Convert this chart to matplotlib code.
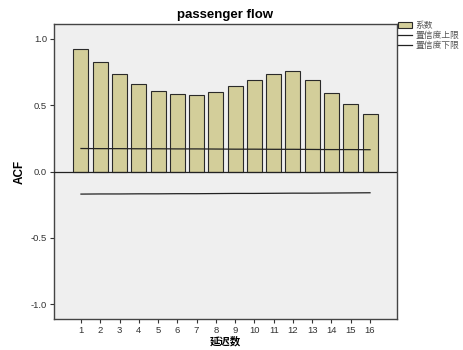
import matplotlib
matplotlib.use('Agg')
import matplotlib.pyplot as plt
from matplotlib.patches import Patch
from matplotlib.lines import Line2D

plt.rcParams['font.family'] = ['Liberation Sans', 'Noto Sans CJK SC', 'DejaVu Sans']

# ACF values
lags = list(range(1, 17))
acf = [0.925, 0.825, 0.732, 0.657, 0.609, 0.581, 0.576, 0.596,
       0.644, 0.689, 0.737, 0.757, 0.692, 0.592, 0.506, 0.431]
upper = [0.173, 0.172, 0.172, 0.171, 0.171, 0.170, 0.170, 0.169,
         0.168, 0.168, 0.167, 0.167, 0.166, 0.165, 0.165, 0.164]
lower = [-0.170, -0.169, -0.169, -0.168, -0.168, -0.167, -0.167, -0.166,
         -0.165, -0.165, -0.164, -0.163, -0.163, -0.162, -0.161, -0.160]
yticks = [-1.0, -0.5, 0.0, 0.5, 1.0]

fig = plt.figure(figsize=(4.64, 3.5), dpi=100)
ax = fig.add_axes([54 / 464, 1 - 319 / 350, 343 / 464, 295 / 350])
ax.set_facecolor('#efefef')

ax.bar(lags, acf, width=0.78, color='#d3ce9a', edgecolor='#2a2a2a', linewidth=0.8, zorder=2)
ax.plot(lags, upper, color='#222222', lw=0.9, zorder=3)
ax.plot(lags, lower, color='#222222', lw=0.9, zorder=3)
ax.axhline(0, color='#222222', lw=0.9, zorder=4)

ax.set_xlim(-0.4, 17.4)
ax.set_ylim(-1.11, 1.11)
ax.set_xticks(lags)
ax.set_yticks(yticks)
ax.set_yticklabels([f'{v:.1f}' for v in yticks])
ax.tick_params(axis='both', direction='out', length=3, width=0.8, labelsize=6.8,
               colors='#333333', pad=2)

for s in ax.spines.values():
    s.set_color('#444444')
    s.set_linewidth(1.0)

ax.set_title('passenger flow', fontsize=9.5, fontweight='bold', pad=4)
ax.set_ylabel('ACF', fontsize=8.5, fontweight='bold', labelpad=4)
ax.set_xlabel('延迟数', fontsize=7.5, fontweight='bold', labelpad=1,
              family=['Noto Sans CJK SC', 'DejaVu Sans'])

handles = [Patch(facecolor='#d3ce9a', edgecolor='#2a2a2a', linewidth=0.8),
           Line2D([0], [0], color='#222222', lw=0.9),
           Line2D([0], [0], color='#222222', lw=0.9)]
labels = ['系数', '置信度上限', '置信度下限']
leg = fig.legend(handles, labels, loc='upper left', bbox_to_anchor=(398 / 464, 1 - 21 / 350),
                 frameon=False, handlelength=1.6, handletextpad=0.4,
                 labelspacing=0.1, borderaxespad=0, borderpad=0,
                 prop={'family': ['Noto Sans CJK SC', 'DejaVu Sans'], 'size': 6.3})
for t in leg.get_texts():
    t.set_color('#555555')

fig.savefig('out.png', dpi=100)
